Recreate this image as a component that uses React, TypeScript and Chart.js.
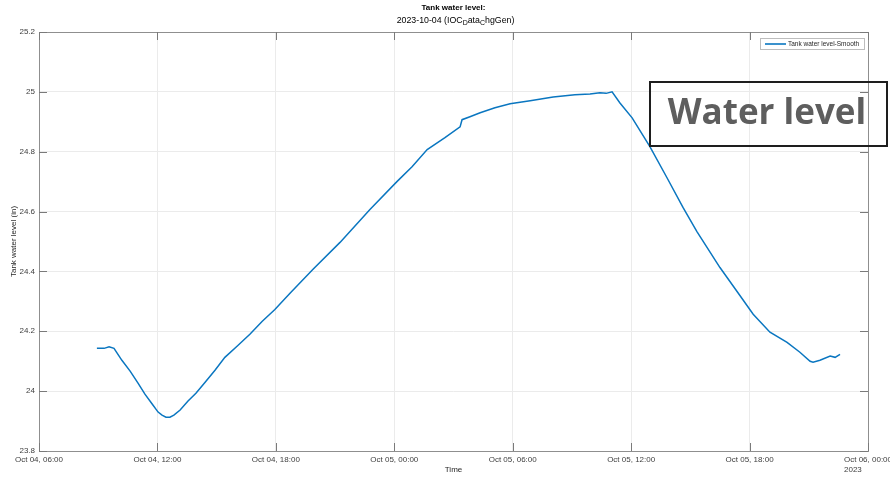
import React, { useEffect, useRef } from "react";
import { Chart, registerables } from "chart.js";

Chart.register(...registerables);

// minutes since Oct 04 2023 00:00
const timeMinutes = [
  536, 558, 573, 588, 612, 637, 661, 682, 704, 722, 734, 746, 758, 770, 789, 813, 837, 865, 895, 925,
  962, 1001, 1038, 1077, 1123, 1193, 1275, 1366, 1448, 1494, 1540, 1594, 1640, 1646, 1670, 1701, 1746,
  1792, 1853, 1923, 1989, 2035, 2065, 2084, 2102, 2126, 2163, 2217, 2269, 2318, 2360, 2430, 2482, 2531,
  2582, 2634, 2673, 2704, 2713, 2734, 2765, 2780, 2795,
];
const levelValues = [
  24.143, 24.143, 24.148, 24.143, 24.103, 24.067, 24.027, 23.99, 23.957, 23.93, 23.92, 23.913, 23.913,
  23.92, 23.937, 23.967, 23.993, 24.03, 24.07, 24.113, 24.15, 24.19, 24.233, 24.273, 24.327, 24.407,
  24.497, 24.607, 24.7, 24.75, 24.807, 24.847, 24.883, 24.907, 24.917, 24.93, 24.947, 24.96, 24.97,
  24.983, 24.99, 24.993, 24.997, 24.995, 25.0, 24.963, 24.913, 24.817, 24.713, 24.613, 24.533, 24.413,
  24.333, 24.257, 24.197, 24.163, 24.13, 24.1, 24.097, 24.103, 24.117, 24.113, 24.123,
];

const xTickValues = [360, 720, 1080, 1440, 1800, 2160, 2520, 2880];
const xTickLabels = [
  "Oct 04, 06:00",
  "Oct 04, 12:00",
  "Oct 04, 18:00",
  "Oct 05, 00:00",
  "Oct 05, 06:00",
  "Oct 05, 12:00",
  "Oct 05, 18:00",
  "Oct 06, 00:00",
];
const yearLabel = "2023";
const yTickValues = [23.8, 24, 24.2, 24.4, 24.6, 24.8, 25, 25.2];
const yTickLabels = ["23.8", "24", "24.2", "24.4", "24.6", "24.8", "25", "25.2"];

const titleText = "Tank water level:";
const subtitleParts = [
  { t: "2023-10-04 (IOC", sub: false },
  { t: "D", sub: true },
  { t: "ata", sub: false },
  { t: "C", sub: true },
  { t: "hgGen)", sub: false },
];
const xTitle = "Time";
const yTitle = "Tank water level (in)";
const seriesName = "Tank water level-Smooth";
const annotationText = "Water level";

const LINE_COLOR = "rgb(10,118,192)";
const FONT = "'Liberation Sans', Arial, sans-serif";

const decorPlugin = {
  id: "decor",
  afterDraw(chart: any) {
    const { ctx, chartArea } = chart;
    const { left, right, top, bottom } = chartArea;
    const xs = chart.scales.x;
    const ys = chart.scales.y;
    ctx.save();

    // box
    ctx.strokeStyle = "#8f8f8f";
    ctx.lineWidth = 1;
    ctx.strokeRect(Math.round(left) + 0.5, Math.round(top) + 0.5, Math.round(right - left), Math.round(bottom - top));

    // inner ticks
    ctx.strokeStyle = "#7a7a7a";
    ctx.beginPath();
    const tl = 8;
    xTickValues.forEach((v) => {
      const px = Math.round(xs.getPixelForValue(v)) + 0.5;
      ctx.moveTo(px, bottom);
      ctx.lineTo(px, bottom - tl);
      ctx.moveTo(px, top);
      ctx.lineTo(px, top + tl);
    });
    yTickValues.forEach((v) => {
      const py = Math.round(ys.getPixelForValue(v)) + 0.5;
      ctx.moveTo(left, py);
      ctx.lineTo(left + tl, py);
      ctx.moveTo(right, py);
      ctx.lineTo(right - tl, py);
    });
    ctx.stroke();

    // tick labels
    ctx.fillStyle = "#404040";
    ctx.font = `8px ${FONT}`;
    ctx.textBaseline = "middle";
    ctx.textAlign = "right";
    yTickValues.forEach((v, i) => {
      ctx.fillText(yTickLabels[i], left - 4, ys.getPixelForValue(v));
    });
    ctx.textAlign = "center";
    let lastStart = 0;
    xTickValues.forEach((v, i) => {
      const px = xs.getPixelForValue(v);
      ctx.fillText(xTickLabels[i], px, bottom + 9);
      lastStart = px - ctx.measureText(xTickLabels[i]).width / 2;
    });
    ctx.textAlign = "left";
    ctx.fillText(yearLabel, lastStart, bottom + 19);

    // axis titles
    ctx.fillStyle = "#262626";
    ctx.textAlign = "center";
    ctx.font = `8px ${FONT}`;
    ctx.fillText(xTitle, (left + right) / 2, bottom + 19);
    ctx.save();
    ctx.translate(14, (top + bottom) / 2);
    ctx.rotate(-Math.PI / 2);
    ctx.fillText(yTitle, 0, 0);
    ctx.restore();

    // title
    const cx = (left + right) / 2;
    ctx.fillStyle = "#000";
    ctx.font = `bold 8px ${FONT}`;
    ctx.fillText(titleText, cx, 8);
    const mainFont = `8.8px ${FONT}`;
    const subFont = `7px ${FONT}`;
    let total = 0;
    subtitleParts.forEach((p) => {
      ctx.font = p.sub ? subFont : mainFont;
      total += ctx.measureText(p.t).width;
    });
    let sx = cx - total / 2 + 2;
    ctx.textAlign = "left";
    subtitleParts.forEach((p) => {
      ctx.font = p.sub ? subFont : mainFont;
      ctx.fillText(p.t, sx, p.sub ? 23.5 : 21);
      sx += ctx.measureText(p.t).width;
    });

    // legend
    const lw = 104;
    const lh = 11;
    const lx = right - 4 - lw;
    const ly = top + 6;
    ctx.fillStyle = "#fff";
    ctx.fillRect(lx, ly, lw, lh);
    ctx.strokeStyle = "#bdbdbd";
    ctx.lineWidth = 1;
    ctx.strokeRect(Math.round(lx) + 0.5, Math.round(ly) + 0.5, lw, lh);
    ctx.strokeStyle = LINE_COLOR;
    ctx.lineWidth = 1.6;
    ctx.beginPath();
    ctx.moveTo(lx + 5, ly + lh / 2 + 0.5);
    ctx.lineTo(lx + 26, ly + lh / 2 + 0.5);
    ctx.stroke();
    ctx.fillStyle = "#262626";
    ctx.font = `6.5px ${FONT}`;
    ctx.fillText(seriesName, lx + 28, ly + lh / 2 + 0.5);

    // annotation box
    ctx.strokeStyle = "#1e1e1e";
    ctx.lineWidth = 2;
    ctx.strokeRect(650, 82, 237, 64);
    ctx.fillStyle = "#5e5e5e";
    ctx.font = `bold 35px 'Open Sans', sans-serif`;
    ctx.textAlign = "center";
    ctx.fillText(annotationText, 767, 114);

    ctx.restore();
  },
};

export default function App() {
  const ref = useRef<HTMLCanvasElement | null>(null);
  useEffect(() => {
    if (!ref.current) return;
    const data = timeMinutes.map((t, i) => ({ x: t, y: levelValues[i] }));
    const chart = new Chart(ref.current, {
      type: "line",
      data: {
        datasets: [
          {
            label: seriesName,
            data,
            borderColor: LINE_COLOR,
            borderWidth: 1.5,
            pointRadius: 0,
            tension: 0,
            fill: false,
          },
        ],
      },
      options: {
        animation: false,
        responsive: false,
        devicePixelRatio: 1,
        layout: { padding: { left: 39, top: 32, right: 22, bottom: 26 } },
        plugins: { legend: { display: false }, tooltip: { enabled: false }, title: { display: false } },
        scales: {
          x: {
            type: "linear",
            min: 360,
            max: 2880,
            afterFit: (s: any) => {
              s.height = 0;
            },
            afterBuildTicks: (s: any) => {
              s.ticks = xTickValues.map((v) => ({ value: v }));
            },
            ticks: { display: false },
            grid: { color: "#ebebeb", drawTicks: false },
            border: { display: false },
          },
          y: {
            min: 23.8,
            max: 25.2,
            afterFit: (s: any) => {
              s.width = 0;
            },
            afterBuildTicks: (s: any) => {
              s.ticks = yTickValues.map((v) => ({ value: v }));
            },
            ticks: { display: false },
            grid: { color: "#ebebeb", drawTicks: false },
            border: { display: false },
          },
        },
      },
      plugins: [decorPlugin],
    });
    return () => chart.destroy();
  }, []);
  return (
    <div style={{ position: "fixed", left: 0, top: 0, width: 890, height: 477, background: "#fff" }}>
      <canvas ref={ref} width={890} height={477} />
    </div>
  );
}
